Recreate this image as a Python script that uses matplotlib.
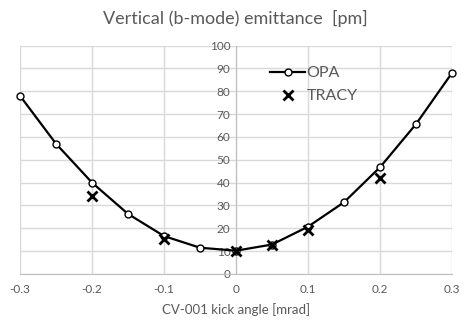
import matplotlib
matplotlib.use("Agg")
import matplotlib.pyplot as plt
from matplotlib.lines import Line2D

# data
opa_kick = [-0.3, -0.25, -0.2, -0.15, -0.1, -0.05, 0.0, 0.05, 0.1, 0.15, 0.2, 0.25, 0.3]
opa_emit = [78.0, 57.0, 40.0, 26.3, 16.6, 11.5, 10.2, 12.9, 20.7, 31.4, 46.7, 65.6, 88.0]
tracy_kick = [-0.2, -0.1, 0.0, 0.05, 0.1, 0.2]
tracy_emit = [34.3, 15.1, 10.0, 12.9, 19.2, 41.8]

xticks = [-0.3, -0.2, -0.1, 0, 0.1, 0.2, 0.3]
xtick_labels = ["-0.3", "-0.2", "-0.1", "0", "0.1", "0.2", "0.3"]
yticks = list(range(0, 101, 10))

plt.rcParams['font.family'] = ['Lato', 'DejaVu Sans']
txt = '#595959'
grid = '#d9d9d9'

W, H = 470, 322
fig = plt.figure(figsize=(W / 100, H / 100), dpi=100)
# axes box in pixels: x -0.3 -> 20, 0.3 -> 452 ; y 0 -> 274, 100 -> 45.5
ax = fig.add_axes([20 / W, (H - 274) / H, (452 - 20) / W, (274 - 45.5) / H])

ax.set_xlim(-0.3, 0.3)
ax.set_ylim(0, 100)
ax.set_xticks(xticks)
ax.set_xticklabels(xtick_labels)
ax.set_yticks(yticks)

ax.grid(True, color=grid, linewidth=1.0, zorder=0)
ax.set_axisbelow(True)

for s in ['top', 'right']:
    ax.spines[s].set_visible(False)
ax.spines['left'].set_position(('data', 0))
ax.spines['left'].set_color('#bfbfbf')
ax.spines['bottom'].set_color('#bfbfbf')
ax.tick_params(axis='both', length=0, labelsize=8.5, labelcolor=txt)
ax.tick_params(axis='y', pad=4)
ax.tick_params(axis='x', pad=7)

ax.plot(opa_kick, opa_emit, color='black', linewidth=1.6, marker='o', markersize=5,
        markerfacecolor='white', markeredgecolor='black', markeredgewidth=1.0,
        zorder=3, clip_on=False)
ax.plot(tracy_kick, tracy_emit, linestyle='none', marker='x', markersize=6.5,
        markeredgewidth=2.0, color='black', zorder=4, clip_on=False)

handles = [
    Line2D([], [], color='black', linewidth=1.6, marker='o', markersize=5,
           markerfacecolor='white', markeredgecolor='black', markeredgewidth=1.0),
    Line2D([], [], linestyle='none', marker='x', markersize=6.5,
           markeredgewidth=2.0, color='black'),
]
leg = ax.legend(handles, ['OPA', 'TRACY'], loc='upper left',
                bbox_to_anchor=(262 / W, (H - 58) / H), bbox_transform=fig.transFigure,
                frameon=False, fontsize=11.5, handlelength=2.2, handletextpad=0.1,
                labelspacing=0.55, borderpad=0)
for t in leg.get_texts():
    t.set_color(txt)

fig.text(235 / W, 1 - 18 / H, 'Vertical (b-mode) emittance  [pm]', ha='center', va='center',
         fontsize=13, color=txt)
ax.set_xlabel('CV-001 kick angle [mrad]', fontsize=9.5, color=txt, labelpad=6)

fig.savefig('out.png', dpi=100)
